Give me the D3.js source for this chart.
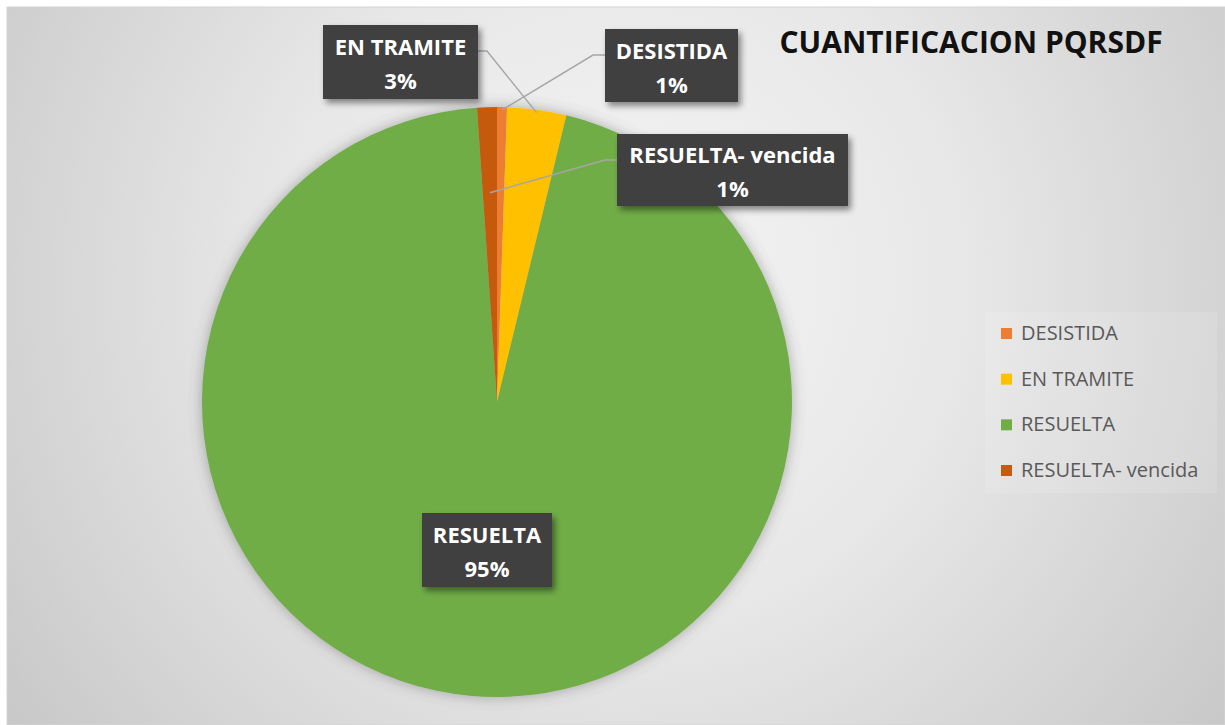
<!DOCTYPE html>
<html>
<head>
<meta charset="utf-8">
<script src="https://cdn.jsdelivr.net/npm/d3@7"></script>
<style>
  body{margin:0;background:#fff;}
  svg{display:block;}
</style>
</head>
<body>
<div id="chart"></div>
<script>
// data
const categories = ["DESISTIDA", "EN TRAMITE", "RESUELTA", "RESUELTA- vencida"];
const counts = [5, 30, 880, 10];
const colors = ["#ED7D31", "#FFC000", "#70AD47", "#C55A11"];
const title = "CUANTIFICACION PQRSDF";

const opt = {width:1225, height:725, cx:497, cy:402, r:295, font:"'Open Sans', 'Liberation Sans', sans-serif"};

// label boxes (layout only)
const boxes = [
  {x:605, y:29,  w:133, h:73, side:"left",  lr:0.99},
  {x:323, y:25,  w:155, h:74, side:"right", lr:0.99},
  {x:422, y:513, w:130, h:74, side:null,    lr:0},
  {x:617, y:134, w:231, h:72, side:"left",  lr:0.71}
];

const total = d3.sum(counts);
const table = categories.map((c,i)=>({name:c, value:counts[i], color:colors[i], box:boxes[i]}));

const svg = d3.select("#chart").append("svg")
  .attr("width",opt.width)
  .attr("height",opt.height);

const defs = svg.append("defs");
const grad = defs.append("radialGradient")
  .attr("id","bg")
  .attr("gradientUnits","userSpaceOnUse")
  .attr("cx",620).attr("cy",280).attr("r",780);
grad.append("stop").attr("offset",0).attr("stop-color","#F5F5F5");
grad.append("stop").attr("offset",0.45).attr("stop-color","#E7E7E7");
grad.append("stop").attr("offset",1).attr("stop-color","#C6C6C6");

const boxShadow = defs.append("filter").attr("id","boxShadow")
  .attr("x","-20%").attr("y","-20%").attr("width","140%").attr("height","150%");
boxShadow.append("feDropShadow")
  .attr("dx",3).attr("dy",4).attr("stdDeviation",3)
  .attr("flood-color","#000").attr("flood-opacity",0.45);

const pieShadow = defs.append("filter").attr("id","pieShadow")
  .attr("x","-20%").attr("y","-20%").attr("width","140%").attr("height","140%");
pieShadow.append("feDropShadow")
  .attr("dx",0).attr("dy",0).attr("stdDeviation",7)
  .attr("flood-color","#555").attr("flood-opacity",0.45);

// background
svg.append("rect")
  .attr("x",7).attr("y",7)
  .attr("width",opt.width-7).attr("height",opt.height-7)
  .attr("fill","url(#bg)")
  .attr("stroke","#D4D4D4");

// title
svg.append("text")
  .attr("x",971).attr("y",53)
  .attr("text-anchor","middle")
  .attr("font-family",opt.font)
  .attr("font-weight","bold")
  .attr("font-size",30)
  .attr("fill","#111")
  .text(title);

// pie
const pie = d3.pie().sort(null).value(d=>d.value);
const arc = d3.arc().innerRadius(0).outerRadius(opt.r);
const arcs = pie(table);

const pieG = svg.append("g")
  .attr("transform","translate("+opt.cx+","+opt.cy+")");

pieG.append("g")
  .attr("filter","url(#pieShadow)")
  .selectAll("path")
  .data(arcs)
  .enter()
  .append("path")
  .attr("d",arc)
  .attr("fill",d=>d.data.color);

// leader lines
arcs.forEach((d)=>{
  const b = d.data.box;
  if(!b.side) return;
  const mid = (d.startAngle+d.endAngle)/2;
  const ex = opt.cx + Math.sin(mid)*opt.r*b.lr;
  const ey = opt.cy - Math.cos(mid)*opt.r*b.lr;
  const sx = b.side==="left" ? b.x : b.x+b.w;
  const sy = b.y+26;
  const kx = b.side==="left" ? sx-12 : sx+9;
  svg.append("polyline")
    .attr("points",[[sx,sy],[kx,sy],[ex,ey]].map(p=>p.join(",")).join(" "))
    .attr("fill","none")
    .attr("stroke","#A6A6A6")
    .attr("stroke-width",1.5);
});

// label boxes
const labels = svg.selectAll("g.lbl")
  .data(arcs)
  .enter()
  .append("g")
  .attr("class","lbl");

labels.append("rect")
  .attr("x",d=>d.data.box.x)
  .attr("y",d=>d.data.box.y)
  .attr("width",d=>d.data.box.w)
  .attr("height",d=>d.data.box.h)
  .attr("fill","#404040")
  .attr("filter","url(#boxShadow)");

labels.append("text")
  .attr("x",d=>d.data.box.x+d.data.box.w/2)
  .attr("y",d=>d.data.box.y+d.data.box.h/2-7)
  .attr("text-anchor","middle")
  .attr("font-family",opt.font)
  .attr("font-weight","bold")
  .attr("font-size",22)
  .attr("fill","#fff")
  .text(d=>d.data.name);

labels.append("text")
  .attr("x",d=>d.data.box.x+d.data.box.w/2)
  .attr("y",d=>d.data.box.y+d.data.box.h/2+27)
  .attr("text-anchor","middle")
  .attr("font-family",opt.font)
  .attr("font-weight","bold")
  .attr("font-size",22)
  .attr("fill","#fff")
  .text(d=>Math.round(d.data.value/total*100)+"%");

// legend
const legend = svg.append("g");
legend.append("rect")
  .attr("x",985).attr("y",312)
  .attr("width",232).attr("height",181)
  .attr("fill","#fff").attr("fill-opacity",0.12);

const ly = d3.scalePoint().domain(categories).range([333,470]);
const item = legend.selectAll("g.item")
  .data(table)
  .enter()
  .append("g")
  .attr("class","item")
  .attr("transform",d=>"translate(1001,"+ly(d.name)+")");

item.append("rect")
  .attr("x",0).attr("y",-5)
  .attr("width",11).attr("height",11)
  .attr("fill",d=>d.color);

item.append("text")
  .attr("x",20).attr("y",7)
  .attr("font-family",opt.font)
  .attr("font-size",20)
  .attr("fill","#595959")
  .text(d=>d.name);
</script>
</body>
</html>
